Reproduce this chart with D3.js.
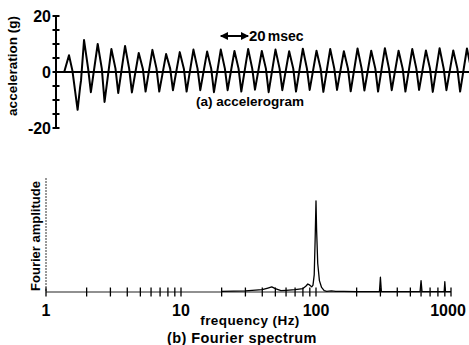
<!DOCTYPE html>
<html><head><meta charset="utf-8">
<script src="https://cdn.jsdelivr.net/npm/d3@7"></script>
<style>
body{margin:0;background:#fff;}
svg{display:block;}
text{font-family:"Liberation Sans",Arial,sans-serif;font-weight:bold;fill:#000;}
</style></head>
<body>
<svg id="c" width="469" height="345"></svg>
<script>
// ---------- (a) accelerogram data ----------
const accYTicks = [-20, -15, -10, -5, 0, 5, 10, 15, 20];
const accYLabels = [20, 0, -20];
// onset of motion (ms, g)
const onsetTime = [6, 9.5, 12, 15.8, 17.6, 18.3];
const onsetG    = [0, 6.0, 0.5, -13.5, -5.5, -3.0];
// successive cycles: peak time (ms), peak (g), following trough (g)
const peakTime = [20.5, 30.5, 40.5, 50.5, 60.5, 70.5, 80.5, 90.5, 100.5, 110.5,
                  120.5, 130.5, 140.5, 150.5, 160.5, 170.5, 180.5, 190.5, 200.5, 210.5,
                  220.5, 230.5, 240.5, 250.5, 260.5, 270.5, 280.5, 290.5, 300.5];
const peakG = [11.4, 10.0, 8.2, 9.3, 6.8, 7.9, 6.4, 7.1, 8.0, 7.3,
               8.0, 7.5, 8.2, 7.5, 8.0, 7.4, 8.3, 7.6, 8.2, 7.4,
               8.4, 7.6, 8.5, 7.6, 8.2, 7.7, 8.5, 7.7, 8.4];
const troughG = [-7.2, -10.7, -7.5, -7.3, -7.0, -7.0, -6.5, -7.0, -6.5, -7.2,
                 -6.5, -7.0, -6.3, -7.2, -6.5, -7.0, -6.4, -7.1, -6.4, -6.9,
                 -6.6, -7.0, -6.5, -7.0, -6.4, -7.1, -6.5, -7.0, -6.5];
const shoulderG = 1.2;

// ---------- (b) Fourier spectrum data ----------
const freqTickLabels = [1, 10, 100, 1000];
const specFreq = [20, 30, 40, 44, 47, 50, 55, 60, 70, 80, 84, 87, 90, 93, 95, 97, 98.5, 100, 101, 103, 106, 110, 115, 120, 130, 140, 160, 200, 250, 295, 300, 305, 400, 500, 590, 600, 610, 700, 800, 890, 900, 910, 1000];
const specAmp  = [0.005, 0.01, 0.02, 0.035, 0.045, 0.03, 0.012, 0.015, 0.02, 0.03, 0.05, 0.07, 0.06, 0.045, 0.06, 0.15, 0.45, 0.80, 0.55, 0.25, 0.10, 0.04, 0.012, 0.006, 0.01, 0.005, 0.005, 0.004, 0.004, 0.004, 0.13, 0.004, 0.004, 0.004, 0.004, 0.10, 0.004, 0.004, 0.004, 0.004, 0.09, 0.004, 0.004];

const svg = d3.select("#c");

// ===== (a) =====
const xT = d3.scaleLinear().domain([0, 302]).range([56, 469]);
const yT = d3.scaleLinear().domain([-20, 20]).range([128, 16]);

const pts = onsetTime.map((t, i) => [t, onsetG[i]]);
peakTime.forEach((tp, i) => {
  pts.push([tp, peakG[i]]);
  pts.push([tp + 3, shoulderG]);
  pts.push([tp + 5, troughG[i]]);
});

svg.append("clipPath").attr("id", "clipT").append("rect")
  .attr("x", 56).attr("y", 0).attr("width", 413).attr("height", 140);

// zero line
svg.append("line").attr("x1", xT(0)).attr("x2", 469)
  .attr("y1", yT(0)).attr("y2", yT(0)).attr("stroke", "#000").attr("stroke-width", 2);

svg.append("path").datum(pts)
  .attr("clip-path", "url(#clipT)")
  .attr("d", d3.line().x(d => xT(d[0])).y(d => yT(d[1])))
  .attr("fill", "none").attr("stroke", "#000").attr("stroke-width", 2)
  .attr("stroke-linejoin", "round");

// y axis
const ax = svg.append("g").attr("transform", `translate(${xT(0)},0)`);
ax.append("line").attr("y1", yT(20)).attr("y2", yT(-20)).attr("stroke", "#000").attr("stroke-width", 2);
ax.selectAll("line.t").data(accYTicks).join("line").attr("class", "t")
  .attr("x1", -3.5).attr("x2", 3.5).attr("y1", d => yT(d)).attr("y2", d => yT(d))
  .attr("stroke", "#000").attr("stroke-width", 2);
ax.selectAll("text").data(accYLabels).join("text")
  .attr("x", -5).attr("y", d => yT(d)).attr("dy", "0.36em")
  .attr("text-anchor", "end").attr("font-size", 16).text(d => d === -20 ? "-20" : d);

svg.append("text").attr("transform", `translate(17,66) rotate(-90)`)
  .attr("text-anchor", "middle").attr("font-size", 13.5).text("acceleration  (g)");

svg.append("text").attr("x", 250).attr("y", 106).attr("text-anchor", "middle")
  .attr("font-size", 13.5).text("(a) accelerogram");

// 20 msec scale arrow
const defs = svg.append("defs");
defs.append("marker").attr("id", "ah").attr("viewBox", "0 0 10 10").attr("refX", 9).attr("refY", 5)
  .attr("markerWidth", 4).attr("markerHeight", 4).attr("orient", "auto-start-reverse")
  .append("path").attr("d", "M0,0L10,5L0,10z").attr("fill", "#000");
svg.append("line").attr("x1", xT(120.5)).attr("x2", xT(140.5)).attr("y1", 36).attr("y2", 36)
  .attr("stroke", "#000").attr("stroke-width", 2)
  .attr("marker-start", "url(#ah)").attr("marker-end", "url(#ah)");
svg.append("text").attr("x", 249).attr("y", 41).attr("font-size", 15).text("20")
  .append("tspan").attr("font-size", 14).attr("dx", 2).text("msec");

// ===== (b) =====
const xB = d3.scaleLog().domain([1, 1000]).range([46, 451]);
const yB = d3.scaleLinear().domain([0, 1]).range([292, 178]);

// y axis (thin dotted)
svg.append("line").attr("x1", xB(1)).attr("x2", xB(1)).attr("y1", yB(1)).attr("y2", yB(0))
  .attr("stroke", "#333").attr("stroke-width", 1).attr("stroke-dasharray", "2,1");
// x axis
svg.append("line").attr("x1", xB(1)).attr("x2", xB(1000)).attr("y1", yB(0)).attr("y2", yB(0))
  .attr("stroke", "#222").attr("stroke-width", 1.2);
const minor = xB.ticks();
svg.selectAll("line.bt").data(minor).join("line").attr("class", "bt")
  .attr("x1", d => xB(d)).attr("x2", d => xB(d))
  .attr("y1", yB(0) - 4.5).attr("y2", yB(0) + 4.5)
  .attr("stroke", "#000").attr("stroke-width", 1.3);
svg.selectAll("text.bl").data(freqTickLabels).join("text").attr("class", "bl")
  .attr("x", d => d === 1000 ? xB(d) - 3 : xB(d)).attr("y", 316)
  .attr("text-anchor", "middle").attr("font-size", 16).text(d => d);

// spectrum
svg.append("path").datum(specFreq.map((f, i) => [f, specAmp[i]]))
  .attr("d", d3.line().x(d => xB(d[0])).y(d => yB(d[1])))
  .attr("fill", "none").attr("stroke", "#000").attr("stroke-width", 1.3)
  .attr("stroke-linejoin", "round");

svg.append("text").attr("transform", `translate(40,236) rotate(-90)`)
  .attr("text-anchor", "middle").attr("font-size", 13).text("Fourier amplitude");
svg.append("text").attr("x", 250).attr("y", 325).attr("text-anchor", "middle")
  .attr("font-size", 13.5).attr("letter-spacing", 0.4).text("frequency  (Hz)");
svg.append("text").attr("x", 242).attr("y", 343).attr("text-anchor", "middle")
  .attr("font-size", 14.5).attr("letter-spacing", 0.4).text("(b) Fourier  spectrum");
</script>
</body></html>
